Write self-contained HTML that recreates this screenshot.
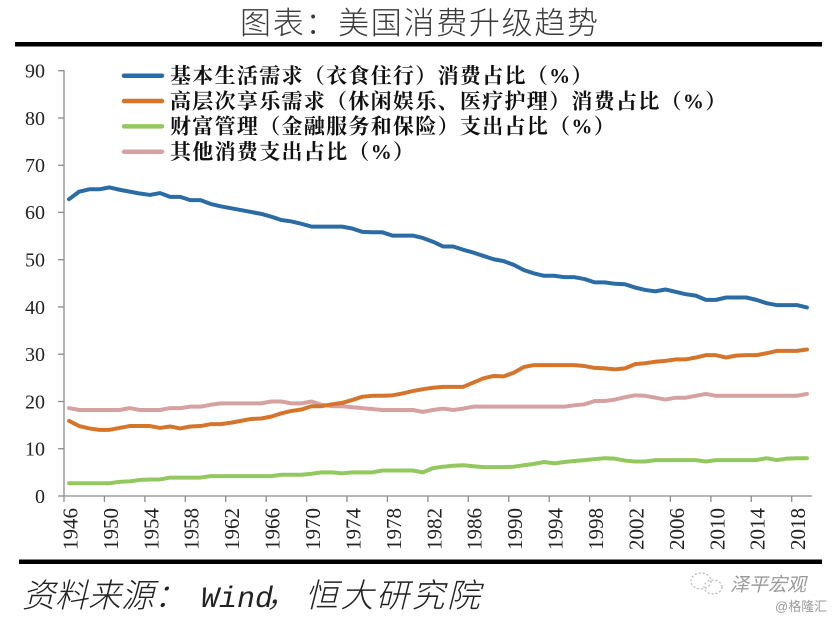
<!DOCTYPE html>
<html><head><meta charset="utf-8"><style>
html,body{margin:0;padding:0;background:#fff;}
svg{display:block;}
</style></head><body>
<svg width="836" height="619" viewBox="0 0 836 619" xmlns="http://www.w3.org/2000/svg">
<rect width="836" height="619" fill="#fff"/>
<text x="240" y="34" font-family="'Liberation Sans','Noto Sans CJK SC',sans-serif" font-weight="300" font-size="31" letter-spacing="1.7" fill="#3a3a3a">图表：美国消费升级趋势</text>
<rect x="15" y="42" width="807" height="4.5" fill="#000"/>
<rect x="19" y="559.5" width="803" height="4.5" fill="#000"/>

<g stroke="#8c8c8c" stroke-width="1.3" fill="none">
<line x1="64" y1="70" x2="64" y2="496.5"/>
<line x1="63.5" y1="496" x2="812" y2="496"/>
<line x1="58" y1="70.7" x2="64" y2="70.7"/><line x1="58" y1="118" x2="64" y2="118"/><line x1="58" y1="165.3" x2="64" y2="165.3"/><line x1="58" y1="212.4" x2="64" y2="212.4"/><line x1="58" y1="259.7" x2="64" y2="259.7"/><line x1="58" y1="307" x2="64" y2="307"/><line x1="58" y1="354.2" x2="64" y2="354.2"/><line x1="58" y1="401.5" x2="64" y2="401.5"/><line x1="58" y1="448.7" x2="64" y2="448.7"/><line x1="58" y1="496" x2="64" y2="496"/>
<line x1="64" y1="496" x2="64" y2="502"/><line x1="104.4" y1="496" x2="104.4" y2="502"/><line x1="144.9" y1="496" x2="144.9" y2="502"/><line x1="185.3" y1="496" x2="185.3" y2="502"/><line x1="225.7" y1="496" x2="225.7" y2="502"/><line x1="266.2" y1="496" x2="266.2" y2="502"/><line x1="306.6" y1="496" x2="306.6" y2="502"/><line x1="347" y1="496" x2="347" y2="502"/><line x1="387.4" y1="496" x2="387.4" y2="502"/><line x1="427.9" y1="496" x2="427.9" y2="502"/><line x1="468.3" y1="496" x2="468.3" y2="502"/><line x1="508.7" y1="496" x2="508.7" y2="502"/><line x1="549.2" y1="496" x2="549.2" y2="502"/><line x1="589.6" y1="496" x2="589.6" y2="502"/><line x1="630" y1="496" x2="630" y2="502"/><line x1="670.4" y1="496" x2="670.4" y2="502"/><line x1="710.9" y1="496" x2="710.9" y2="502"/><line x1="751.3" y1="496" x2="751.3" y2="502"/><line x1="791.7" y1="496" x2="791.7" y2="502"/>
</g>

<g font-family="'Liberation Serif',serif" font-size="20" fill="#222" text-anchor="end">
<text x="45" y="77.5">90</text><text x="45" y="124.8">80</text><text x="45" y="172.1">70</text><text x="45" y="219.2">60</text><text x="45" y="266.5">50</text><text x="45" y="313.8">40</text><text x="45" y="361">30</text><text x="45" y="408.3">20</text><text x="45" y="455.5">10</text><text x="45" y="502.8">0</text>
</g>

<g font-family="'Liberation Serif',serif" font-size="21" fill="#222" text-anchor="end">
<text transform="translate(70,508) rotate(-90)" dy="0.35em">1946</text>
<text transform="translate(110.4,508) rotate(-90)" dy="0.35em">1950</text>
<text transform="translate(150.9,508) rotate(-90)" dy="0.35em">1954</text>
<text transform="translate(191.3,508) rotate(-90)" dy="0.35em">1958</text>
<text transform="translate(231.7,508) rotate(-90)" dy="0.35em">1962</text>
<text transform="translate(272.2,508) rotate(-90)" dy="0.35em">1966</text>
<text transform="translate(312.6,508) rotate(-90)" dy="0.35em">1970</text>
<text transform="translate(353,508) rotate(-90)" dy="0.35em">1974</text>
<text transform="translate(393.4,508) rotate(-90)" dy="0.35em">1978</text>
<text transform="translate(433.9,508) rotate(-90)" dy="0.35em">1982</text>
<text transform="translate(474.3,508) rotate(-90)" dy="0.35em">1986</text>
<text transform="translate(514.7,508) rotate(-90)" dy="0.35em">1990</text>
<text transform="translate(555.2,508) rotate(-90)" dy="0.35em">1994</text>
<text transform="translate(595.6,508) rotate(-90)" dy="0.35em">1998</text>
<text transform="translate(636,508) rotate(-90)" dy="0.35em">2002</text>
<text transform="translate(676.4,508) rotate(-90)" dy="0.35em">2006</text>
<text transform="translate(716.9,508) rotate(-90)" dy="0.35em">2010</text>
<text transform="translate(757.3,508) rotate(-90)" dy="0.35em">2014</text>
<text transform="translate(797.7,508) rotate(-90)" dy="0.35em">2018</text>
</g>

<g transform="translate(69.05,496) scale(10.108,-4.726)" fill="none" stroke-width="4" stroke-linejoin="round" stroke-linecap="round">
<polyline vector-effect="non-scaling-stroke" stroke="#d6a1a1" points="0,18.6 1,18.2 2,18.2 3,18.2 4,18.2 5,18.2 6,18.6 7,18.2 8,18.2 9,18.2 10,18.6 11,18.6 12,18.9 13,18.9 14,19.3 15,19.6 16,19.6 17,19.6 18,19.6 19,19.6 20,20.0 21,20.0 22,19.6 23,19.6 24,20.0 25,19.3 26,19.0 27,19.0 28,18.8 29,18.6 30,18.4 31,18.2 32,18.2 33,18.2 34,18.2 35,17.8 36,18.2 37,18.5 38,18.2 39,18.5 40,18.9 41,18.9 42,18.9 43,18.9 44,18.9 45,18.9 46,18.9 47,18.9 48,18.9 49,18.9 50,19.2 51,19.4 52,20.1 53,20.1 54,20.4 55,20.9 56,21.3 57,21.2 58,20.8 59,20.4 60,20.8 61,20.8 62,21.2 63,21.6 64,21.2 65,21.2 66,21.2 67,21.2 68,21.2 69,21.2 70,21.2 71,21.2 72,21.2 73,21.6"/>
<polyline vector-effect="non-scaling-stroke" stroke="#93c85f" points="0,2.7 1,2.7 2,2.7 3,2.7 4,2.7 5,3.0 6,3.1 7,3.4 8,3.5 9,3.5 10,3.9 11,3.9 12,3.9 13,3.9 14,4.2 15,4.2 16,4.2 17,4.2 18,4.2 19,4.2 20,4.2 21,4.5 22,4.5 23,4.5 24,4.7 25,5.0 26,5.0 27,4.8 28,5.0 29,5.0 30,5.0 31,5.4 32,5.4 33,5.4 34,5.4 35,5.0 36,5.9 37,6.2 38,6.4 39,6.5 40,6.3 41,6.1 42,6.1 43,6.1 44,6.2 45,6.5 46,6.8 47,7.2 48,6.9 49,7.2 50,7.4 51,7.6 52,7.8 53,8.0 54,7.9 55,7.5 56,7.3 57,7.3 58,7.6 59,7.6 60,7.6 61,7.6 62,7.6 63,7.3 64,7.6 65,7.6 66,7.6 67,7.6 68,7.6 69,8.0 70,7.6 71,7.9 72,8.0 73,8.0"/>
<polyline vector-effect="non-scaling-stroke" stroke="#d5752c" points="0,15.9 1,14.8 2,14.3 3,14.0 4,14.0 5,14.4 6,14.8 7,14.8 8,14.8 9,14.4 10,14.7 11,14.3 12,14.7 13,14.8 14,15.2 15,15.2 16,15.5 17,15.9 18,16.3 19,16.4 20,16.8 21,17.5 22,18.0 23,18.3 24,19.0 25,19.0 26,19.4 27,19.7 28,20.3 29,21.0 30,21.2 31,21.2 32,21.3 33,21.7 34,22.2 35,22.6 36,22.9 37,23.1 38,23.1 39,23.1 40,24.0 41,24.9 42,25.4 43,25.3 44,26.1 45,27.3 46,27.7 47,27.7 48,27.7 49,27.7 50,27.7 51,27.5 52,27.1 53,27.0 54,26.8 55,27.0 56,27.9 57,28.1 58,28.4 59,28.6 60,28.9 61,28.9 62,29.3 63,29.8 64,29.8 65,29.3 66,29.7 67,29.8 68,29.8 69,30.2 70,30.7 71,30.7 72,30.7 73,31.0"/>
<polyline vector-effect="non-scaling-stroke" stroke="#2b6ca5" points="0,62.8 1,64.4 2,64.9 3,64.9 4,65.3 5,64.8 6,64.4 7,64.0 8,63.7 9,64.1 10,63.3 11,63.3 12,62.6 13,62.6 14,61.8 15,61.3 16,60.9 17,60.5 18,60.1 19,59.7 20,59.1 21,58.4 22,58.1 23,57.6 24,57.0 25,57.0 26,57.0 27,57.0 28,56.6 29,55.9 30,55.8 31,55.8 32,55.1 33,55.1 34,55.1 35,54.6 36,53.8 37,52.8 38,52.8 39,52.1 40,51.5 41,50.8 42,50.1 43,49.7 44,48.9 45,47.8 46,47.1 47,46.6 48,46.6 49,46.3 50,46.3 51,45.9 52,45.2 53,45.2 54,44.9 55,44.8 56,44.1 57,43.6 58,43.3 59,43.7 60,43.2 61,42.7 62,42.4 63,41.5 64,41.5 65,42.0 66,42.0 67,42.0 68,41.5 69,40.8 70,40.4 71,40.4 72,40.4 73,39.9"/>
</g>

<g stroke-width="4.5" stroke-linecap="round">
<line x1="124" y1="75.7" x2="162" y2="75.7" stroke="#2b6ca5"/>
<line x1="124" y1="101" x2="162" y2="101" stroke="#d5752c"/>
<line x1="124" y1="126.4" x2="162" y2="126.4" stroke="#93c85f"/>
<line x1="124" y1="151.7" x2="162" y2="151.7" stroke="#d6a1a1"/>
</g>
<g font-family="'Liberation Serif','Noto Serif CJK SC',serif" font-weight="700" font-size="21" letter-spacing="1.3" fill="#111">
<text x="170" y="83">基本生活需求（衣食住行）消费占比（%）</text>
<text x="170" y="108.3">高层次享乐需求（休闲娱乐、医疗护理）消费占比（%）</text>
<text x="170" y="133.7">财富管理（金融服务和保险）支出占比（%）</text>
<text x="170" y="159">其他消费支出占比（%）</text>
</g>

<g font-family="'Liberation Sans','Noto Sans CJK SC',sans-serif" font-weight="300" font-size="33" font-style="italic" fill="#222">
<text x="22" y="607">资料来源：</text>
<text x="201" y="607" font-family="'Liberation Mono',monospace" font-size="30">Wind</text>
<text x="266" y="607">，</text>
<text x="305" y="607" letter-spacing="2.5">恒大研究院</text>
</g>

<g fill="none" stroke="#b5b5b5" stroke-width="1.2" stroke-dasharray="2 2">
<ellipse cx="701" cy="581" rx="10" ry="8"/>
<ellipse cx="713" cy="587" rx="9" ry="7"/>
</g>
<text x="730" y="591" font-family="'Liberation Sans','Noto Sans CJK SC',sans-serif" font-size="19" font-style="italic" fill="#9a9a9a">泽平宏观</text>
<text x="775" y="611" font-family="'Liberation Sans','Noto Sans CJK SC',sans-serif" font-size="13" fill="#9a9a9a">@格隆汇</text>
</svg>
</body></html>
